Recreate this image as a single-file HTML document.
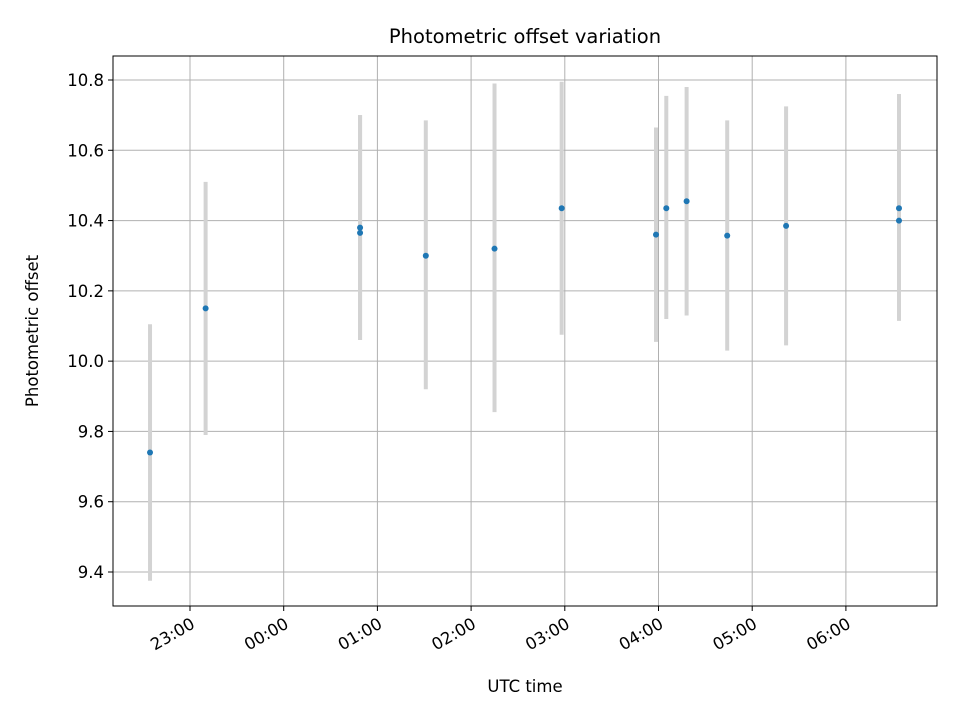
<!DOCTYPE html>
<html><head><meta charset="utf-8"><style>
body{margin:0;background:#fff;font-family:"Liberation Sans","DejaVu Sans",sans-serif}
</style></head><body>
<svg id="chart" width="960" height="720" xmlns="http://www.w3.org/2000/svg" font-family="DejaVu Sans, Liberation Sans, sans-serif">
<rect width="960" height="720" fill="#fff"/>
<g id="grid"></g>
<g id="marks"></g>
<rect x="113" y="56" width="824" height="550" fill="none" stroke="#000" stroke-width="1"/>
<g id="axes"></g>
<text x="525" y="43" text-anchor="middle" font-size="19.5">Photometric offset variation</text>
<text x="525" y="692" text-anchor="middle" font-size="16.5">UTC time</text>
<text transform="translate(38,331) rotate(-90)" text-anchor="middle" font-size="16.5">Photometric offset</text>
</svg>
<script>
// minutes after 22:00
const times = [34.4, 70, 168.9, 168.9, 211, 255, 298, 358.4, 365, 378, 404, 441.7, 514, 514];
const offsets = [9.74, 10.15, 10.38, 10.365, 10.30, 10.32, 10.435, 10.36, 10.435, 10.455, 10.357, 10.385, 10.435, 10.40];
const errLow = [9.375, 9.79, 10.06, 10.06, 9.92, 9.855, 10.075, 10.055, 10.12, 10.13, 10.03, 10.045, 10.115, 10.115];
const errHigh = [10.105, 10.51, 10.70, 10.70, 10.685, 10.79, 10.795, 10.665, 10.755, 10.78, 10.685, 10.725, 10.76, 10.76];
const xTickMinutes = [60, 120, 180, 240, 300, 360, 420, 480];
const xTickLabels = ["23:00","00:00","01:00","02:00","03:00","04:00","05:00","06:00"];
const yTicks = [9.4, 9.6, 9.8, 10.0, 10.2, 10.4, 10.6, 10.8];

const NS = "http://www.w3.org/2000/svg";
const xScale = m => 190 + (m - 60) * (93.7 / 60);
const yScale = v => 80 + (10.8 - v) * (492 / 1.4);
function mk(tag, attrs, parent) {
  const e = document.createElementNS(NS, tag);
  for (const k in attrs) e.setAttribute(k, attrs[k]);
  parent.appendChild(e); return e;
}
const grid = document.getElementById('grid'), axes = document.getElementById('axes'), marks = document.getElementById('marks');
yTicks.forEach(v => {
  const y = yScale(v);
  const g = mk('line', {x1:113, x2:937, y1:y, y2:y, stroke:'#b0b0b0', 'stroke-width':1}, grid);
  
  
  const t = mk('line', {x1:108, x2:113, y1:y, y2:y, stroke:'#000'}, axes);
  
  
  const l = mk('text', {x:104, y:y+6, 'text-anchor':'end', 'font-size':16.5}, axes);
  l.textContent = v.toFixed(1);
  
  
});
xTickMinutes.forEach((m, i) => {
  const x = xScale(m);
  const g = mk('line', {x1:x, x2:x, y1:56, y2:606, stroke:'#b0b0b0', 'stroke-width':1}, grid);
  
  
  const t = mk('line', {x1:x, x2:x, y1:606, y2:611, stroke:'#000'}, axes);
  
  
  const l = mk('text', {x:0, y:0, 'text-anchor':'end', 'font-size':16.5, transform:`translate(${x+6},${627}) rotate(-30)`}, axes);
  l.textContent = xTickLabels[i];
  
  
});
times.forEach((m, i) => {
  const x = xScale(m);
  const e = mk('line', {x1:x, x2:x, y1:yScale(errHigh[i]), y2:yScale(errLow[i]), stroke:'#d3d3d3', 'stroke-width':4}, marks);
  
  
});
times.forEach((m, i) => {
  const p = mk('circle', {cx:xScale(m), cy:yScale(offsets[i]), r:3, fill:'#1f77b4'}, marks);
  
  
});
</script>
</body></html>
